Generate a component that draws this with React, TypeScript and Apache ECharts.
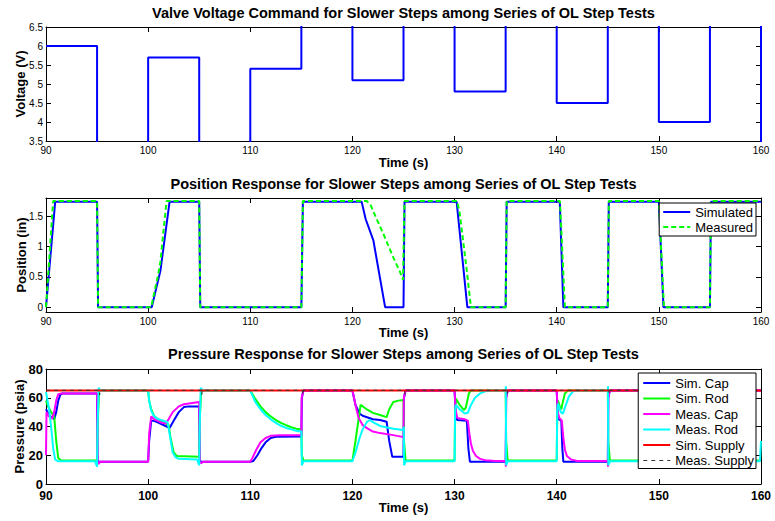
import React, { useEffect, useRef } from "react";
import * as echarts from "echarts";

const FONT = "'Liberation Sans', Arial, Helvetica, sans-serif";

const chartTitles = [
  "Valve Voltage Command for Slower Steps among Series of OL Step Tests",
  "Position Response for Slower Steps among Series of OL Step Tests",
  "Pressure Response for Slower Steps among Series of OL Step Tests",
];
const yAxisNames = ["Voltage (V)", "Position (in)", "Pressure (psia)"];
const xAxisName = "Time (s)";
const positionTicks = [0, 0.5, 1, 1.5];

// Voltage command: level held from each time until the next
const voltTimes = [90, 95, 100, 105, 110, 115, 120, 125, 130, 135, 140, 145, 150, 155, 160];
const voltLevels = [6, 0, 5.7, 0, 5.4, 10, 5.1, 10, 4.8, 10, 4.5, 10, 4.0, 10, 0];

// Position (in)
const posSimulated: [number, number][] = [
  [90, 0], [90.9, 1.74], [95, 1.74], [95.1, 0], [100.35, 0], [101.2, 0.6], [102.1, 1.74],
  [105, 1.74], [105.1, 0], [115, 0], [115.15, 1.74], [120.9, 1.74], [121.3, 1.45],
  [122.05, 1.1], [123.2, 0], [125, 0], [125.1, 1.74], [130.2, 1.74], [131.25, 0], [135, 0],
  [135.1, 1.74], [140.3, 1.74], [140.65, 0], [145, 0], [145.1, 1.74], [150, 1.74],
  [150.45, 0], [155, 0], [155.1, 1.74], [160, 1.74],
];
const posMeasured: [number, number][] = [
  [90, 0], [90.7, 1.75], [95, 1.75], [95.1, 0], [100.3, 0], [101, 0.55], [101.2, 0.75],
  [101.8, 1.75], [105, 1.75], [105.1, 0], [115, 0], [115.15, 1.75], [121.4, 1.75],
  [121.8, 1.68], [122.3, 1.48], [123, 1.22], [124, 0.82], [124.66, 0.58], [124.95, 0.45],
  [125.1, 1.75], [130.25, 1.75], [130.5, 1.55], [131.2, 0.6], [131.6, 0], [135, 0],
  [135.1, 1.75], [140.32, 1.75], [140.8, 0], [145, 0], [145.1, 1.75], [150, 1.75],
  [150.5, 0], [155, 0], [155.1, 1.75], [160, 1.75],
];

// Pressure (psia)
const simCap: [number, number][] = [
  [90, 52], [90.3, 48], [90.8, 45], [91.0, 50], [91.2, 58], [91.4, 62], [91.6, 63], [95, 63],
  [95.05, 16], [95.2, 15.5], [100, 15.5], [100.1, 30], [100.3, 44], [100.6, 44], [101.2, 42],
  [101.8, 40], [102.1, 39], [102.5, 44], [103, 50], [103.5, 53.5], [104, 54], [105, 54],
  [105.05, 16], [105.2, 15.5], [110, 15.5], [110.3, 16], [110.7, 20], [111.1, 25], [111.5, 29],
  [112, 32], [112.5, 32.8], [115, 33], [115.05, 60], [115.2, 65], [120, 65], [120.3, 55],
  [120.7, 49], [121, 47.5], [122, 45], [122.7, 44.5], [123.35, 43.3], [123.6, 30], [123.9, 19],
  [125, 19], [125.05, 60], [125.2, 65], [130, 65], [130.1, 50], [130.25, 44.5], [131.2, 44],
  [131.35, 25], [131.5, 15.5], [135, 15.5], [135.05, 60], [135.2, 65], [140, 65], [140.1, 47],
  [140.2, 45], [140.45, 44], [140.55, 25], [140.65, 15.5], [145, 15.5], [145.05, 60],
  [145.2, 65], [150, 65], [150.1, 45], [150.3, 44], [150.4, 15.5], [155, 15.5], [155.05, 60],
  [155.2, 65], [160, 65],
];
const simRod: [number, number][] = [
  [90, 58], [90.2, 54], [90.5, 50], [90.8, 47], [91.0, 30], [91.2, 18], [91.5, 16.3], [95, 16.3],
  [95.05, 40], [95.2, 65], [100, 65], [100.1, 58], [100.3, 52], [100.6, 47], [101, 45],
  [101.5, 43], [102, 41], [102.2, 32], [102.5, 22], [102.8, 19.5], [105, 19], [105.05, 45],
  [105.2, 65], [110, 65], [110.5, 59], [111, 54], [111.5, 50], [112, 47], [112.5, 44.5],
  [113, 42.5], [113.5, 41], [114, 39.5], [114.5, 38.5], [115, 38], [115.05, 20], [115.2, 16.3],
  [120, 16.3], [120.3, 30], [120.6, 45], [120.8, 55], [121.5, 51.5], [122, 49.5], [122.7, 48],
  [123.35, 46.5], [123.6, 52], [124, 57], [124.5, 58], [125, 58.5], [125.05, 30], [125.2, 16.3],
  [130, 16.3], [130.05, 50], [130.12, 59.5], [130.5, 55], [130.9, 51.5], [131.1, 53],
  [131.4, 63], [131.6, 65], [135, 65], [135.05, 30], [135.2, 16.3], [140, 16.3], [140.05, 50],
  [140.12, 58], [140.3, 54], [140.45, 52], [140.6, 57], [140.8, 63], [141.1, 65], [145, 65],
  [145.05, 30], [145.2, 16.3], [150, 16.3], [150.05, 50], [150.15, 58], [150.4, 60],
  [150.7, 65], [155, 65], [155.05, 30], [155.2, 16.3], [160, 16.3],
];
const measCap: [number, number][] = [
  [90, 20], [90.05, 50], [90.3, 47], [90.6, 45.5], [90.8, 50], [91.0, 58], [91.2, 62.5],
  [91.5, 63], [95, 63], [95.02, 55], [95.05, 15], [95.15, 14], [95.3, 15.5], [100, 15.5],
  [100.1, 35], [100.3, 47], [100.6, 45], [101.2, 43], [101.7, 42], [102, 45], [102.4, 50],
  [103, 54], [103.5, 55.5], [104.5, 56.5], [105, 57], [105.02, 50], [105.05, 15],
  [105.2, 14.5], [105.4, 15.5], [110, 15.5], [110.2, 18], [110.6, 24], [111, 29], [111.5, 32],
  [112, 33.5], [113, 34], [115, 34], [115.03, 60], [115.2, 65], [120, 65], [120.3, 55],
  [120.6, 46], [121, 41], [121.5, 38.5], [122, 36.5], [122.7, 35.4], [124, 34], [125, 32.6],
  [125.03, 60], [125.2, 65], [130, 65], [130.1, 52], [130.25, 46], [131, 45], [131.3, 44],
  [131.45, 35], [131.6, 28], [131.8, 23], [132.1, 19.5], [132.5, 17.5], [133, 16.5],
  [134, 16], [135, 16], [135.02, 12], [135.05, 60], [135.2, 65], [140, 65], [140.1, 50],
  [140.25, 46], [140.5, 44], [140.65, 32], [140.8, 24], [141, 19.5], [141.4, 17], [142, 16],
  [145, 16], [145.02, 12], [145.05, 60], [145.2, 65], [150, 65], [150.1, 45], [150.3, 40],
  [150.45, 20], [150.7, 16], [155, 16], [155.05, 60], [155.2, 65], [160, 65],
];
const measRod: [number, number][] = [
  [90, 64], [90.1, 60], [90.3, 52], [90.5, 40], [90.7, 25], [90.9, 17], [91.2, 15.8],
  [94.8, 15.8], [95, 12], [95.05, 40], [95.15, 67], [95.3, 65], [100, 65], [100.1, 58],
  [100.3, 51], [100.6, 47], [101, 45], [101.5, 44], [101.9, 43], [102.1, 35], [102.4, 22],
  [102.7, 18.5], [103, 17.5], [104.8, 17], [105, 13], [105.05, 40], [105.15, 67], [105.3, 65],
  [110, 65], [110.5, 57], [111, 52], [111.5, 48], [112, 45], [112.5, 42.5], [113, 40.5],
  [113.5, 39], [114, 38], [114.5, 37], [115, 36.5], [115.05, 13], [115.2, 15.8], [120, 15.8],
  [120.3, 22], [120.7, 32], [121, 38], [121.4, 43], [121.7, 44.5], [122, 43], [122.7, 40.4],
  [124, 38.5], [125, 37.6], [125.03, 40], [125.06, 13], [125.2, 15.8], [130, 15.8],
  [130.05, 50], [130.12, 55], [130.5, 52], [131, 49], [131.3, 49.5], [131.6, 55], [132, 60],
  [132.5, 63], [133, 64.5], [133.5, 65], [135, 65], [135.02, 68], [135.05, 13], [135.2, 15.8],
  [140, 15.8], [140.05, 50], [140.12, 56], [140.4, 50], [140.6, 49], [140.9, 55], [141.2, 61],
  [141.6, 64.5], [142, 65], [145, 65], [145.02, 68], [145.05, 13], [145.2, 15.8], [150, 15.8],
  [150.05, 55], [150.3, 52], [150.6, 60], [151, 65], [155, 65], [155.02, 68], [155.05, 13],
  [155.2, 15.8], [159.9, 15.8], [160, 30],
];
const simSupply: [number, number][] = [[90, 65], [160, 65]];
const measSupply: [number, number][] = [
  [90, 65.2], [95.2, 65.2], [95.25, 62], [95.3, 65.2], [105.2, 65.2], [105.25, 62],
  [105.3, 65.2], [115.1, 65.2], [115.15, 62], [115.2, 65.2], [125.1, 65.2], [125.15, 62.5],
  [125.2, 65.2], [135.1, 65.2], [135.15, 62.5], [135.2, 65.2], [145.1, 65.2], [145.15, 62.5],
  [145.2, 65.2], [160, 65.2],
];

const GRID_LEFT = 46;
const GRID_W = 715;
const gridTops = [27, 198, 369];
const gridHeights = [114, 114, 115];

const ICON_SOLID = "path://M0,0h27v2h-27z";
const ICON_DASH = "path://M0,0h5v2h-5zM8,0h5v2h-5zM16,0h5v2h-5zM24,0h3v2h-3z";
const ICON_THIN_DASH = "path://M0,0h4v1h-4zM8,0h4v1h-4zM16,0h4v1h-4zM24,0h3v1h-3z";

function buildVoltage(): [number, number][] {
  const out: [number, number][] = [];
  for (let i = 0; i < voltTimes.length; i++) {
    if (i > 0) out.push([voltTimes[i], voltLevels[i - 1]]);
    out.push([voltTimes[i], voltLevels[i]]);
  }
  return out;
}

export default function App() {
  const ref = useRef<HTMLDivElement>(null);
  useEffect(() => {
    if (!ref.current) return;
    const chart = echarts.init(ref.current, undefined, { renderer: "svg" });

    const small = { fontFamily: FONT, fontSize: 10, color: "#000" };
    const big = { fontFamily: FONT, fontSize: 12, fontWeight: "bold" as const, color: "#000" };
    const bigY = { fontFamily: FONT, fontSize: 13, fontWeight: "bold" as const, color: "#000" };
    const nameStyle = { fontFamily: FONT, fontSize: 13, fontWeight: "bold" as const, color: "#000" };
    const axisLine = { show: true, onZero: false, lineStyle: { color: "#000", width: 1 } };
    const tick = { show: true, inside: true, length: 5, lineStyle: { color: "#000" } };

    const xAxes: any[] = [];
    const yAxes: any[] = [];
    const xNameGaps = [15, 14, 17];
    const yNameGaps = [19, 18.5, 20.5];
    for (let g = 0; g < 3; g++) {
      const lbl = g === 2 ? big : small;
      xAxes.push({
        type: "value", gridIndex: g, position: "bottom", min: 90, max: 160, interval: 10,
        axisLine, axisTick: tick, splitLine: { show: false },
        axisLabel: { ...lbl, margin: g === 2 ? 6 : 4 },
        name: xAxisName, nameLocation: "middle", nameGap: xNameGaps[g], nameTextStyle: nameStyle,
        nameMoveOverlap: false,
      });
      xAxes.push({
        type: "value", gridIndex: g, position: "top", min: 90, max: 160, interval: 10,
        axisLine, axisTick: tick, splitLine: { show: false }, axisLabel: { show: false },
      });
      let yRange: any;
      if (g === 0) yRange = { min: 3.5, max: 6.5, interval: 0.5 };
      else if (g === 1) yRange = { min: -0.08, max: 1.8 };
      else yRange = { min: 0, max: 80, interval: 20 };
      const ylbl = g === 2 ? bigY : small;
      const custom = g === 1 ? { customValues: positionTicks } : {};
      yAxes.push({
        type: "value", gridIndex: g, position: "left", ...yRange,
        axisLine, axisTick: { ...tick, ...custom }, splitLine: { show: false },
        axisLabel: { ...ylbl, margin: 3, ...custom },
        name: yAxisNames[g], nameLocation: "middle", nameGap: yNameGaps[g], nameTextStyle: nameStyle,
        nameMoveOverlap: false,
      });
      yAxes.push({
        type: "value", gridIndex: g, position: "right", ...yRange,
        axisLine, axisTick: { ...tick, ...custom }, splitLine: { show: false },
        axisLabel: { show: false },
      });
    }

    const line = (name: string, data: any, color: string, xi: number, yi: number, width = 2, type: any = "solid", z = 2) => ({
      name, type: "line", data, xAxisIndex: xi, yAxisIndex: yi, symbol: "none", showSymbol: false,
      lineStyle: { color, width, type }, itemStyle: { color }, clip: true, z,
      emphasis: { disabled: true }, silent: true,
    });

    const legendBase = {
      orient: "vertical", right: 19, backgroundColor: "#fff", borderColor: "#000", borderWidth: 1,
      itemWidth: 27, itemHeight: 14, selectedMode: false, symbolKeepAspect: true,
      textStyle: { fontFamily: FONT, fontSize: 13, color: "#000", lineHeight: 14 },
      borderRadius: 0,
    };

    chart.setOption({
      animation: false,
      backgroundColor: "#fff",
      title: chartTitles.map((t, i) => ({
        text: t, left: GRID_LEFT + GRID_W / 2, top: [5, 176.5, 346][i], textAlign: "center", padding: 0,
        textStyle: { fontFamily: FONT, fontSize: 14.5, fontWeight: "bold", color: "#000" },
      })),
      grid: gridTops.map((top, i) => ({
        left: GRID_LEFT, top, width: GRID_W, height: gridHeights[i], containLabel: false,
        outerBoundsMode: "none", show: false,
      })),
      xAxis: xAxes,
      yAxis: yAxes,
      legend: [
        {
          ...legendBase, top: 203, itemGap: 1, padding: [2, 3, 2, 4],
          data: [
            { name: "Simulated", icon: ICON_SOLID },
            { name: "Measured", icon: ICON_DASH },
          ],
        },
        {
          ...legendBase, top: 373, itemGap: 1.5, padding: [3, 2, 1, 5],
          data: [
            { name: "Sim. Cap", icon: ICON_SOLID },
            { name: "Sim. Rod", icon: ICON_SOLID },
            { name: "Meas. Cap", icon: ICON_SOLID },
            { name: "Meas. Rod", icon: ICON_SOLID },
            { name: "Sim. Supply", icon: ICON_SOLID },
            { name: "Meas. Supply", icon: ICON_THIN_DASH },
          ],
        },
      ],
      series: [
        line("Voltage", buildVoltage(), "#0000ff", 0, 0),
        line("Simulated", posSimulated, "#0000ff", 2, 2),
        line("Measured", posMeasured, "#00ff00", 2, 2, 2, [5, 3]),
        line("Sim. Cap", simCap, "#0000ff", 4, 4),
        line("Sim. Rod", simRod, "#00ff00", 4, 4),
        line("Meas. Cap", measCap, "#ff00ff", 4, 4),
        line("Meas. Rod", measRod, "#00ffff", 4, 4),
        line("Sim. Supply", simSupply, "#ff0000", 4, 4),
        line("Meas. Supply", measSupply, "#333333", 4, 4, 1, [4, 4]),
      ],
    });
    return () => chart.dispose();
  }, []);
  return (
    <div
      ref={ref}
      style={{ position: "absolute", left: 0, top: 0, width: 775, height: 521, background: "#fff" }}
    />
  );
}
